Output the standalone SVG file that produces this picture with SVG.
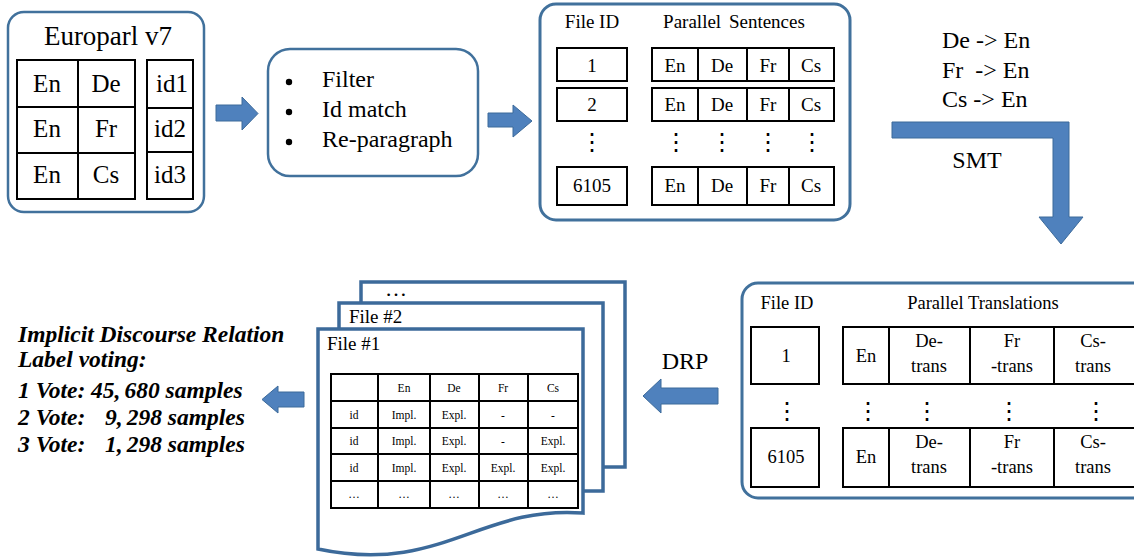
<svg xmlns="http://www.w3.org/2000/svg" width="1134" height="557" viewBox="0 0 1134 557">
<style>
.box{fill:#fff;stroke:#41719C;stroke-width:2.5}
.cell{fill:#fff;stroke:#000;stroke-width:2}
.page{fill:#fff;stroke:#3C6A9A;stroke-width:3.5}
.t{font-family:"Liberation Serif","Times New Roman",serif;fill:#000}
.m{text-anchor:middle}
.vd{font-family:"DejaVu Serif",serif;font-size:24px;text-anchor:middle;fill:#000}
.arrow{fill:#4F81BD;stroke:#3C6A9A;stroke-width:1}
.bi{font-family:"Liberation Serif","Times New Roman",serif;font-weight:bold;font-style:italic;font-size:23.5px;fill:#000}
</style>
<rect width="1134" height="557" fill="#fff"/>

<g id="europarl">
<rect class="box" x="8" y="12" width="196" height="200" rx="16"/>
<text class="t m" x="108" y="45" font-size="27">Europarl v7</text>
<rect class="cell" x="17" y="60" width="61" height="47"/>
<rect class="cell" x="78" y="60" width="57" height="47"/>
<rect class="cell" x="17" y="107" width="61" height="46"/>
<rect class="cell" x="78" y="107" width="57" height="46"/>
<rect class="cell" x="17" y="153" width="61" height="46"/>
<rect class="cell" x="78" y="153" width="57" height="46"/>
<rect class="cell" x="147" y="60" width="46" height="48"/>
<rect class="cell" x="147" y="108" width="46" height="44"/>
<rect class="cell" x="147" y="152" width="46" height="47"/>
<g class="t m" font-size="25">
<text x="47" y="92">En</text><text x="106" y="92">De</text>
<text x="47" y="137">En</text><text x="106" y="137">Fr</text>
<text x="47" y="183">En</text><text x="106" y="183">Cs</text>
<text x="172" y="92">id1</text><text x="170" y="137">id2</text><text x="170" y="183">id3</text>
</g>
</g>

<g id="preprocess">
<rect class="box" x="268" y="49" width="210" height="127" rx="22"/>
<circle cx="289" cy="82" r="3.2"/>
<circle cx="289" cy="112" r="3.2"/>
<circle cx="289" cy="142" r="3.2"/>
<g class="t" font-size="24">
<text x="322" y="87">Filter</text>
<text x="322" y="117">Id match</text>
<text x="322" y="147">Re-paragraph</text>
</g>
</g>

<g id="sentences">
<rect class="box" x="540" y="4" width="310" height="216" rx="16" style="stroke-width:3"/>
<text class="t m" x="592" y="28" font-size="19">File ID</text>
<text class="t m" x="734" y="28" font-size="19" word-spacing="3">Parallel Sentences</text>
<rect class="cell" x="557" y="48" width="70" height="33"/>
<rect class="cell" x="557" y="88" width="70" height="33"/>
<rect class="cell" x="557" y="167" width="70" height="38"/>
<g class="cell">
<rect x="652" y="48" width="46" height="33"/><rect x="698" y="48" width="49" height="33"/><rect x="747" y="48" width="42" height="33"/><rect x="789" y="48" width="45" height="33"/>
<rect x="652" y="88" width="46" height="33"/><rect x="698" y="88" width="49" height="33"/><rect x="747" y="88" width="42" height="33"/><rect x="789" y="88" width="45" height="33"/>
<rect x="652" y="167" width="46" height="38"/><rect x="698" y="167" width="49" height="38"/><rect x="747" y="167" width="42" height="38"/><rect x="789" y="167" width="45" height="38"/>
</g>
<g class="t m" font-size="19">
<text x="592" y="72">1</text><text x="592" y="111">2</text><text x="592" y="192">6105</text>
<text x="675" y="72">En</text><text x="722" y="72">De</text><text x="768" y="72">Fr</text><text x="811" y="72">Cs</text>
<text x="675" y="111">En</text><text x="722" y="111">De</text><text x="768" y="111">Fr</text><text x="811" y="111">Cs</text>
<text x="675" y="192">En</text><text x="722" y="192">De</text><text x="768" y="192">Fr</text><text x="811" y="192">Cs</text>
</g>
<g class="vd">
<text x="592" y="150">⋮</text><text x="676" y="150">⋮</text><text x="722" y="150">⋮</text><text x="768" y="150">⋮</text><text x="812" y="150">⋮</text>
</g>
</g>

<g id="smt-label">
<g class="t" font-size="24">
<text x="942" y="48">De -&gt; En</text>
<text x="942" y="78" xml:space="preserve">Fr  -&gt; En</text>
<text x="942" y="107">Cs -&gt; En</text>
</g>
<text class="t m" x="977" y="168" font-size="24">SMT</text>
</g>

<g id="translations">
<rect class="box" x="742" y="283" width="410" height="215" rx="16" style="stroke-width:3"/>
<text class="t m" x="787" y="309" font-size="18.5">File ID</text>
<text class="t m" x="983" y="309" font-size="18.5">Parallel Translations</text>
<rect class="cell" x="751" y="327" width="68" height="57"/>
<rect class="cell" x="751" y="428" width="68" height="59"/>
<g class="cell">
<rect x="843" y="327" width="46" height="57"/><rect x="889" y="327" width="81" height="57"/><rect x="970" y="327" width="84" height="57"/><rect x="1054" y="327" width="90" height="57"/>
<rect x="843" y="428" width="46" height="59"/><rect x="889" y="428" width="81" height="59"/><rect x="970" y="428" width="84" height="59"/><rect x="1054" y="428" width="90" height="59"/>
</g>
<g class="t m" font-size="18.5">
<text x="786" y="362">1</text><text x="866" y="362">En</text>
<text x="929" y="347">De-</text><text x="929" y="372">trans</text>
<text x="1012" y="347">Fr</text><text x="1012" y="372">-trans</text>
<text x="1093" y="347">Cs-</text><text x="1093" y="372">trans</text>
<text x="786" y="463">6105</text><text x="866" y="463">En</text>
<text x="929" y="448">De-</text><text x="929" y="473">trans</text>
<text x="1012" y="448">Fr</text><text x="1012" y="473">-trans</text>
<text x="1093" y="448">Cs-</text><text x="1093" y="473">trans</text>
</g>
<g class="vd">
<text x="787" y="419">⋮</text><text x="868" y="419">⋮</text><text x="927" y="419">⋮</text><text x="1009" y="419">⋮</text><text x="1096" y="419">⋮</text>
</g>
</g>

<g id="drp-label">
<text class="t m" x="685" y="369" font-size="24">DRP</text>
</g>

<g id="files">
<rect class="page" x="361" y="282" width="264" height="185"/>
<text class="t" x="385" y="296" font-size="22">…</text>
<rect class="page" x="339" y="303" width="264" height="188"/>
<text class="t" x="349" y="323" font-size="19">File #2</text>
<path class="page" d="M318,329 H583 V513 C480,505 440,575 318,549 Z"/>
<text class="t" x="327" y="350" font-size="19">File #1</text>
<g class="cell">
<rect x="331" y="374" width="47" height="27"/><rect x="378" y="374" width="52" height="27"/><rect x="430" y="374" width="49" height="27"/><rect x="479" y="374" width="49" height="27"/><rect x="528" y="374" width="50" height="27"/>
<rect x="331" y="401" width="47" height="27"/><rect x="378" y="401" width="52" height="27"/><rect x="430" y="401" width="49" height="27"/><rect x="479" y="401" width="49" height="27"/><rect x="528" y="401" width="50" height="27"/>
<rect x="331" y="428" width="47" height="26"/><rect x="378" y="428" width="52" height="26"/><rect x="430" y="428" width="49" height="26"/><rect x="479" y="428" width="49" height="26"/><rect x="528" y="428" width="50" height="26"/>
<rect x="331" y="454" width="47" height="27"/><rect x="378" y="454" width="52" height="27"/><rect x="430" y="454" width="49" height="27"/><rect x="479" y="454" width="49" height="27"/><rect x="528" y="454" width="50" height="27"/>
<rect x="331" y="481" width="47" height="27"/><rect x="378" y="481" width="52" height="27"/><rect x="430" y="481" width="49" height="27"/><rect x="479" y="481" width="49" height="27"/><rect x="528" y="481" width="50" height="27"/>
</g>
<g class="t m" font-size="11.5">
<text x="404" y="392">En</text><text x="454" y="392">De</text><text x="503" y="392">Fr</text><text x="553" y="392">Cs</text>
<text x="354" y="419">id</text><text x="404" y="419">Impl.</text><text x="454" y="419">Expl.</text><text x="503" y="419">-</text><text x="553" y="419">-</text>
<text x="354" y="445">id</text><text x="404" y="445">Impl.</text><text x="454" y="445">Expl.</text><text x="503" y="445">-</text><text x="553" y="445">Expl.</text>
<text x="354" y="472">id</text><text x="404" y="472">Impl.</text><text x="454" y="472">Expl.</text><text x="503" y="472">Expl.</text><text x="553" y="472">Expl.</text>
<text x="354" y="498">…</text><text x="404" y="498">…</text><text x="454" y="498">…</text><text x="503" y="498">…</text><text x="553" y="498">…</text>
</g>
</g>

<g id="voting">
<text class="bi" x="18" y="342">Implicit Discourse Relation</text>
<text class="bi" x="18" y="367">Label voting:</text>
<text class="bi" x="18" y="398">1 Vote: 45,<tspan dx="4">680 samples</tspan></text>
<text class="bi" x="18" y="425">2 Vote: <tspan dx="14">9,</tspan><tspan dx="4">298 samples</tspan></text>
<text class="bi" x="18" y="452">3 Vote: <tspan dx="14">1,</tspan><tspan dx="4">298 samples</tspan></text>
</g>

<g id="connectors">
<polygon class="arrow" points="216,105 242,105 242,97 258,113.5 242,130 242,121 216,121"/>
<polygon class="arrow" points="488,113 513,113 513,105 532,121 513,137 513,127 488,127"/>
<polygon class="arrow" points="892,122 1069,122 1069,217 1083,217 1061,244 1039,217 1053,217 1053,138 892,138"/>
<polygon class="arrow" points="643,396 661,379 661,388 718,388 718,404 661,404 661,413"/>
<polygon class="arrow" points="262,399.5 278,386 278,392 304,392 304,407 278,407 278,413"/>
</g>
</svg>
